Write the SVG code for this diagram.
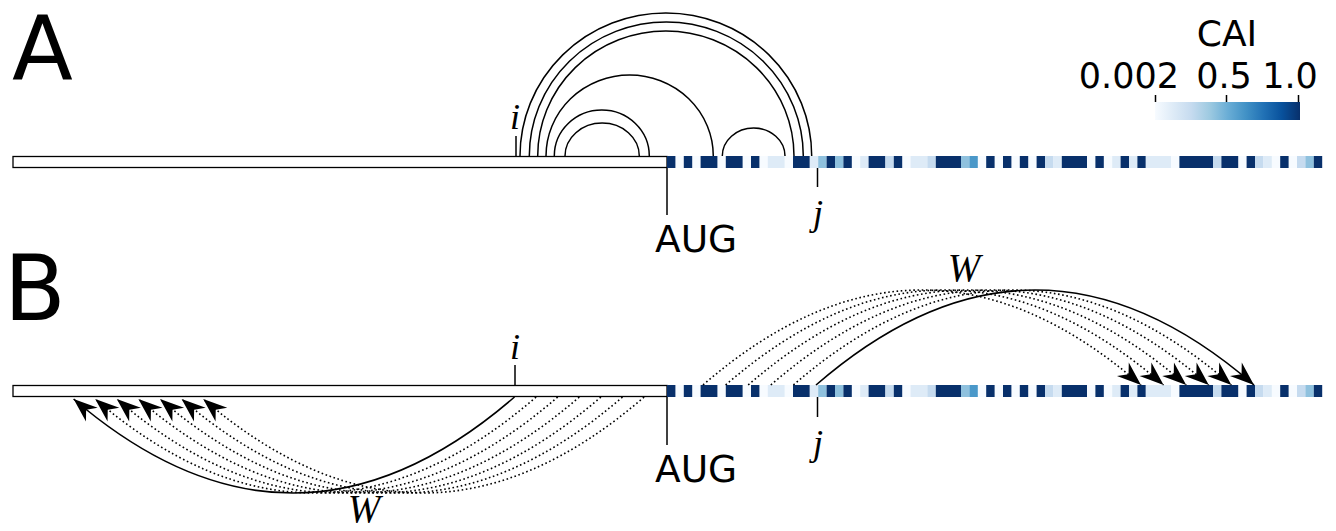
<svg xmlns="http://www.w3.org/2000/svg" xmlns:xlink="http://www.w3.org/1999/xlink" width="1336" height="531" viewBox="0 0 1336 531">
<style>
.sans{font-family:"DejaVu Sans","Liberation Sans",sans-serif;fill:#000}
.math{font-family:"Liberation Serif","DejaVu Serif",serif;font-style:italic;fill:#000}
.d{fill:#08306b}.vl{fill:#deebf7}.l{fill:#c6dbef}.lm{fill:#8fc1de}.m{fill:#4a98c9}
.tick{stroke:#000;stroke-width:1.5;fill:none}
.arc{stroke:#000;stroke-width:1.5;fill:none}
.solid{stroke:#000;stroke-width:1.6;fill:none}
.dot{stroke:#000;stroke-width:1.6;fill:none;stroke-dasharray:1.6 2.6}
.utr{fill:#fff;stroke:#000;stroke-width:1.3}
</style>
<defs>
<linearGradient id="blues" x1="0" y1="0" x2="1" y2="0">
<stop offset="0" stop-color="#f7fbff"/>
<stop offset="0.125" stop-color="#deebf7"/>
<stop offset="0.25" stop-color="#c6dbef"/>
<stop offset="0.375" stop-color="#9ecae1"/>
<stop offset="0.5" stop-color="#6baed6"/>
<stop offset="0.625" stop-color="#4292c6"/>
<stop offset="0.75" stop-color="#2171b5"/>
<stop offset="0.875" stop-color="#08519c"/>
<stop offset="1" stop-color="#08306b"/>
</linearGradient>
<marker id="ah" markerUnits="userSpaceOnUse" viewBox="0 0 28 22" markerWidth="28" markerHeight="22" refX="26" refY="11" orient="auto" overflow="visible">
<path d="M26,11 L2,2 L9.5,11 L2,20 Z" fill="#000" stroke="none"/>
</marker>
<g id="strip">
<rect x="13" y="0.5" width="654" height="11" class="utr"/>
<rect x="667" y="0" width="655.2" height="12" fill="#f7fbff"/>
<rect x="667" y="0" width="8.4" height="12" class="d"/>
<rect x="683.8" y="0" width="8.4" height="12" class="d"/>
<rect x="700.6" y="0" width="16.8" height="12" class="d"/>
<rect x="725.8" y="0" width="16.8" height="12" class="d"/>
<rect x="751" y="0" width="8.4" height="12" class="d"/>
<rect x="767.8" y="0" width="16.8" height="12" class="vl"/>
<rect x="793" y="0" width="16.8" height="12" class="d"/>
<rect x="809.8" y="0" width="8.4" height="12" class="vl"/>
<rect x="818.2" y="0" width="8.4" height="12" class="lm"/>
<rect x="826.6" y="0" width="8.4" height="12" class="d"/>
<rect x="835" y="0" width="8.4" height="12" class="lm"/>
<rect x="843.4" y="0" width="8.4" height="12" class="d"/>
<rect x="860.2" y="0" width="8.4" height="12" class="vl"/>
<rect x="868.6" y="0" width="16.8" height="12" class="d"/>
<rect x="885.4" y="0" width="8.4" height="12" class="l"/>
<rect x="893.8" y="0" width="8.4" height="12" class="d"/>
<rect x="910.6" y="0" width="16.8" height="12" class="vl"/>
<rect x="927.4" y="0" width="8.4" height="12" class="l"/>
<rect x="935.8" y="0" width="25.2" height="12" class="d"/>
<rect x="961" y="0" width="8.4" height="12" class="lm"/>
<rect x="969.4" y="0" width="8.4" height="12" class="m"/>
<rect x="986.2" y="0" width="8.4" height="12" class="d"/>
<rect x="1003" y="0" width="8.4" height="12" class="d"/>
<rect x="1019.8" y="0" width="8.4" height="12" class="d"/>
<rect x="1036.6" y="0" width="8.4" height="12" class="d"/>
<rect x="1045" y="0" width="8.4" height="12" class="l"/>
<rect x="1053.4" y="0" width="8.4" height="12" class="vl"/>
<rect x="1061.8" y="0" width="25.2" height="12" class="d"/>
<rect x="1095.4" y="0" width="8.4" height="12" class="d"/>
<rect x="1112.2" y="0" width="8.4" height="12" class="vl"/>
<rect x="1120.6" y="0" width="8.4" height="12" class="d"/>
<rect x="1129" y="0" width="8.4" height="12" class="vl"/>
<rect x="1137.4" y="0" width="8.4" height="12" class="d"/>
<rect x="1145.8" y="0" width="25.2" height="12" class="vl"/>
<rect x="1179.4" y="0" width="33.6" height="12" class="d"/>
<rect x="1213" y="0" width="8.4" height="12" class="l"/>
<rect x="1221.4" y="0" width="16.8" height="12" class="d"/>
<rect x="1246.6" y="0" width="8.4" height="12" class="d"/>
<rect x="1255" y="0" width="8.4" height="12" class="l"/>
<rect x="1263.4" y="0" width="8.4" height="12" class="vl"/>
<rect x="1280.2" y="0" width="8.4" height="12" class="d"/>
<rect x="1297" y="0" width="8.4" height="12" class="l"/>
<rect x="1305.4" y="0" width="8.4" height="12" class="lm"/>
<rect x="1313.8" y="0" width="8.4" height="12" class="d"/>
</g>
</defs>

<g id="panel-labels">
<text x="12" y="80" class="sans" font-size="89">A</text>
<text x="4" y="320" class="sans" font-size="90">B</text>
</g>

<g id="legend">
<text x="1227" y="46" class="sans" font-size="36" text-anchor="middle">CAI</text>
<text x="1179" y="88" class="sans" font-size="35" text-anchor="end">0.002</text>
<text x="1224" y="88" class="sans" font-size="35" text-anchor="middle">0.5</text>
<text x="1290" y="88" class="sans" font-size="35" text-anchor="middle">1.0</text>
<rect x="1155" y="102" width="145" height="18" fill="url(#blues)"/>
<path class="tick" d="M1155.5,95V102M1226.5,95V102M1298.5,95V102"/>
</g>

<g id="sequence-A">
<use xlink:href="#strip" href="#strip" transform="translate(0,156)"/>
</g>
<g id="sequence-B">
<use xlink:href="#strip" href="#strip" transform="translate(0,385)"/>
</g>

<g id="markers-A">
<path class="tick" d="M516,136V156"/>
<text x="515" y="129" class="math" font-size="36" text-anchor="middle">i</text>
<path class="tick" d="M667,168V215"/>
<text x="655" y="252" class="sans" font-size="37.5">AUG</text>
<path class="tick" d="M817.5,168V187"/>
<text x="818" y="225" class="math" font-size="36" text-anchor="middle">j</text>
</g>

<g id="markers-B">
<path class="tick" d="M515,365V385"/>
<text x="515" y="359" class="math" font-size="36" text-anchor="middle">i</text>
<path class="tick" d="M667,397V445"/>
<text x="655" y="482" class="sans" font-size="37.5">AUG</text>
<path class="tick" d="M817.5,397V417"/>
<text x="818" y="455" class="math" font-size="36" text-anchor="middle">j</text>
<text x="964" y="281" class="math" font-size="39" text-anchor="middle">W</text>
<text x="364" y="522" class="math" font-size="39" text-anchor="middle">W</text>
</g>

<g id="connectors">
<g id="arcs-A">
<path class="arc" d="M520,156 A145.85,143 0 0 1 811.7,156"/>
<path class="arc" d="M529.3,156 A137,134 0 0 1 803.3,156"/>
<path class="arc" d="M537.7,156 A128.15,125 0 0 1 794,156"/>
<path class="arc" d="M546,156 A83.65,81 0 0 1 713.3,156"/>
<path class="arc" d="M554.3,156 A47.5,46 0 0 1 649.3,156"/>
<path class="arc" d="M565,156 A37.15,33 0 0 1 639.3,156"/>
<path class="arc" d="M722.3,156 A31.35,28 0 0 1 785,156"/>
</g>
<g id="curves-B-top">
<path class="dot" marker-end="url(#ah)" d="M703,385 Q922,195 1141,385"/>
<path class="dot" marker-end="url(#ah)" d="M725.6,385 Q944.6,195 1163.6,385"/>
<path class="dot" marker-end="url(#ah)" d="M748.2,385 Q967.2,195 1186.2,385"/>
<path class="dot" marker-end="url(#ah)" d="M770.8,385 Q989.8,195 1208.8,385"/>
<path class="dot" marker-end="url(#ah)" d="M793.4,385 Q1012.4,195 1231.4,385"/>
<path class="solid" marker-end="url(#ah)" d="M816,385 Q1035,195 1254,385"/>
</g>
<g id="curves-B-bottom">
<path class="solid" marker-end="url(#ah)" d="M514.5,397 Q294,588 73.6,399"/>
<path class="dot" marker-end="url(#ah)" d="M536.1,397 Q315.6,588 95.2,399"/>
<path class="dot" marker-end="url(#ah)" d="M557.7,397 Q337.2,588 116.8,399"/>
<path class="dot" marker-end="url(#ah)" d="M579.3,397 Q358.8,588 138.4,399"/>
<path class="dot" marker-end="url(#ah)" d="M600.9,397 Q380.4,588 160,399"/>
<path class="dot" marker-end="url(#ah)" d="M622.5,397 Q402,588 181.6,399"/>
<path class="dot" marker-end="url(#ah)" d="M644.1,397 Q423.6,588 203.2,399"/>
</g>
</g>
</svg>
